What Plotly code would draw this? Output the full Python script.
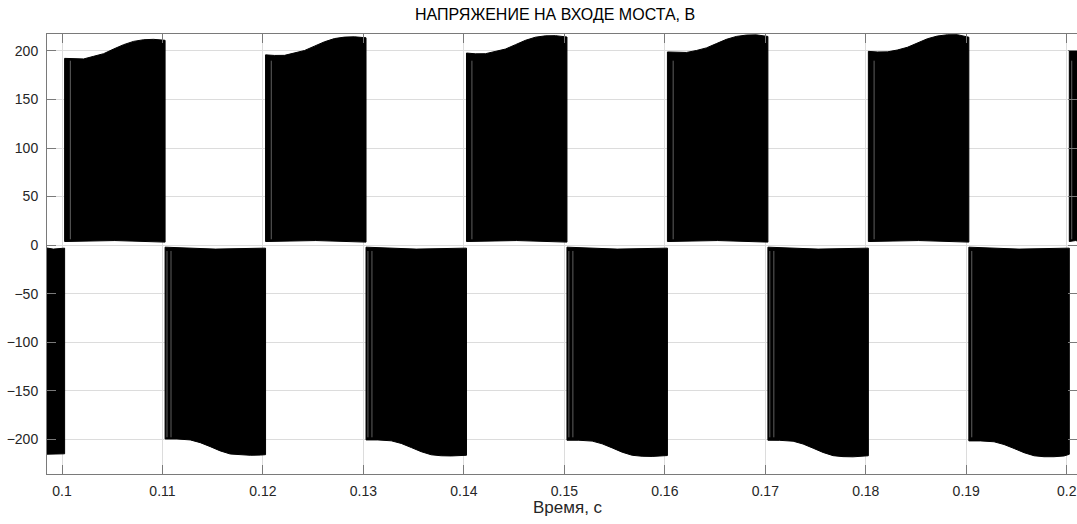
import plotly.graph_objects as go

# ---- data (time in s, voltage in V) ----
TITLE = "НАПРЯЖЕНИЕ НА ВХОДЕ МОСТА, В"
XLABEL = "Время, с"
X_TICKS = [0.10, 0.11, 0.12, 0.13, 0.14, 0.15, 0.16, 0.17, 0.18, 0.19, 0.20]
X_TICKTEXT = ["0.1", "0.11", "0.12", "0.13", "0.14", "0.15", "0.16", "0.17", "0.18", "0.19", "0.2"]
Y_TICKS = [-200, -150, -100, -50, 0, 50, 100, 150, 200]

# positive half-periods: upper envelope of the PWM pulses
P1_T = [0.10026, 0.10115, 0.10215, 0.10314, 0.10414, 0.10513, 0.10613, 0.10712, 0.10812, 0.10911, 0.11026]
P1_V = [192.4, 191.8, 191.8, 194.5, 197.2, 202.0, 206.5, 209.9, 211.6, 212.0, 211.0]
P2_T = [0.12026, 0.12115, 0.12215, 0.12314, 0.12414, 0.12513, 0.12613, 0.12712, 0.12812, 0.12911, 0.13026]
P2_V = [196.0, 195.4, 195.5, 197.8, 200.5, 205.0, 209.5, 212.8, 214.3, 214.6, 213.6]
P3_T = [0.14026, 0.14115, 0.14215, 0.14314, 0.14414, 0.14513, 0.14613, 0.14712, 0.14812, 0.14911, 0.15026]
P3_V = [197.9, 197.1, 197.2, 199.3, 202.0, 206.5, 211.0, 214.2, 215.6, 215.8, 214.4]
P4_T = [0.16026, 0.16115, 0.16215, 0.16314, 0.16414, 0.16513, 0.16613, 0.16712, 0.16812, 0.16911, 0.17026]
P4_V = [199.0, 198.4, 198.5, 200.5, 203.2, 207.6, 212.0, 215.0, 216.4, 216.6, 215.0]
P5_T = [0.18026, 0.18115, 0.18215, 0.18314, 0.18414, 0.18513, 0.18613, 0.18712, 0.18812, 0.18911, 0.19026]
P5_V = [199.6, 199.0, 199.1, 201.0, 203.8, 208.2, 212.6, 215.4, 216.7, 216.8, 214.2]
P6_T = [0.20026, 0.20150]
P6_V = [200.5, 200.0]
POS_BASE = [3.7, 4.7, 3.1]      # lower edge (start, middle, end)

# negative half-periods: lower envelope of the PWM pulses
N0_T = [0.09800, 0.10026]
N0_V = [-215.5, -215.0]
N1_T = [0.11026, 0.11144, 0.11277, 0.11376, 0.11476, 0.11575, 0.11675, 0.11774, 0.11874, 0.11974, 0.12026]
N1_V = [-199.7, -199.7, -200.7, -203.5, -207.6, -212.0, -215.2, -216.2, -216.5, -216.3, -215.9]
N2_T = [0.13026, 0.13144, 0.13277, 0.13376, 0.13476, 0.13575, 0.13675, 0.13774, 0.13874, 0.13974, 0.14026]
N2_V = [-200.7, -200.7, -201.6, -204.3, -208.5, -212.8, -216.0, -217.0, -217.2, -217.0, -216.5]
N3_T = [0.15026, 0.15144, 0.15277, 0.15376, 0.15476, 0.15575, 0.15675, 0.15774, 0.15874, 0.15974, 0.16026]
N3_V = [-201.0, -201.0, -201.9, -204.7, -208.9, -213.3, -216.5, -217.5, -217.7, -217.5, -216.8]
N4_T = [0.17026, 0.17144, 0.17277, 0.17376, 0.17476, 0.17575, 0.17675, 0.17774, 0.17874, 0.17974, 0.18026]
N4_V = [-201.0, -201.1, -202.0, -204.9, -209.2, -213.6, -216.9, -217.9, -218.1, -217.8, -217.0]
N5_T = [0.19026, 0.19144, 0.19277, 0.19376, 0.19476, 0.19575, 0.19675, 0.19774, 0.19874, 0.19974, 0.20026]
N5_V = [-201.7, -201.7, -202.6, -205.4, -209.5, -213.8, -217.0, -218.0, -218.0, -217.2, -215.5]
NEG_BASE = [-2.1, -4.1, -3.1]

# thin lighter gaps between pulses near the start of each half-period
POS_GAPS = [0.10083, 0.12083, 0.14080, 0.16083, 0.18083, 0.20050]
NEG_GAPS = [0.11045, 0.11085, 0.13045, 0.13085, 0.15045, 0.15085, 0.17045, 0.17085, 0.19055]
POS_GAP_Y = [6, 190]
NEG_GAP_Y = [-6, -198]

pos = [(P1_T, P1_V), (P2_T, P2_V), (P3_T, P3_V), (P4_T, P4_V), (P5_T, P5_V), (P6_T, P6_V)]
neg = [(N0_T, N0_V), (N1_T, N1_V), (N2_T, N2_V), (N3_T, N3_V), (N4_T, N4_V), (N5_T, N5_V)]


def polys(segs, base):
    xs, ys = [], []
    for t, v in segs:
        mid = (t[0] + t[-1]) / 2
        xs += list(t) + [t[-1], mid, t[0], t[0], None]
        ys += list(v) + [base[2], base[1], base[0], v[0], None]
    return xs, ys


fig = go.Figure()
for segs, base in ((pos, POS_BASE), (neg, NEG_BASE)):
    xs, ys = polys(segs, base)
    fig.add_trace(go.Scatter(x=xs, y=ys, mode="lines", fill="toself",
                             fillcolor="black", line=dict(color="black", width=1),
                             hoverinfo="skip", showlegend=False))

gx, gy = [], []
for t in POS_GAPS:
    gx += [t, t, None]
    gy += POS_GAP_Y + [None]
for t in NEG_GAPS:
    gx += [t, t, None]
    gy += NEG_GAP_Y + [None]
fig.add_trace(go.Scatter(x=gx, y=gy, mode="lines",
                         line=dict(color="rgba(105,105,105,0.9)", width=1),
                         hoverinfo="skip", showlegend=False))

FONT = "Liberation Sans, Arial, Helvetica, sans-serif"
AX = "#7a7a7a"

fig.update_layout(
    width=1077, height=524,
    margin=dict(l=47, r=0, t=34, b=50),
    paper_bgcolor="white", plot_bgcolor="white",
    font=dict(family=FONT, size=14, color="#262626"),
    showlegend=False,
    xaxis=dict(range=[0.098507, 0.201025], tickvals=X_TICKS, ticktext=X_TICKTEXT,
               showgrid=True, gridcolor="#dcdcdc", gridwidth=1, zeroline=False,
               showline=True, linecolor=AX, linewidth=1, mirror="ticks",
               ticks="inside", ticklen=9, tickcolor=AX, tickwidth=1,
               tickfont=dict(size=14, color="#262626"), ticklabelstandoff=4),
    yaxis=dict(range=[-235.8, 217.5], tickvals=Y_TICKS,
               showgrid=True, gridcolor="#dcdcdc", gridwidth=1, zeroline=False,
               showline=True, linecolor=AX, linewidth=1, mirror="ticks",
               ticks="inside", ticklen=9, tickcolor=AX, tickwidth=1,
               tickfont=dict(size=14, color="#262626"), ticklabelstandoff=5),
    annotations=[
        dict(text=TITLE, xref="paper", yref="paper", x=0.493, y=1 + 20 / 440,
             xanchor="center", yanchor="middle", showarrow=False,
             font=dict(size=16, color="black", family=FONT)),
        dict(text=XLABEL, xref="paper", yref="paper", x=0.506, y=-33 / 440,
             xanchor="center", yanchor="middle", showarrow=False,
             font=dict(size=17, color="#262626", family=FONT)),
    ],
)

fig.write_html("out.html", config={"displayModeBar": False})
